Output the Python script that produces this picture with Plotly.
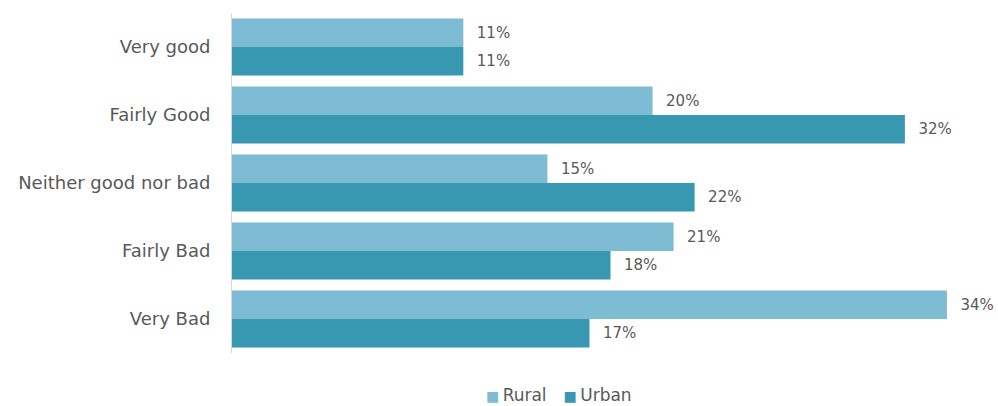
import plotly.graph_objects as go

categories = ["Very good", "Fairly Good", "Neither good nor bad", "Fairly Bad", "Very Bad"]
rural = [11, 20, 15, 21, 34]
urban = [11, 32, 22, 18, 17]

RURAL_COLOR = "#7dbcd2"
URBAN_COLOR = "#3898b2"
TEXT_COLOR = "#595959"
FONT = "DejaVu Sans"
PAD = "\u2002\u2009"  # gap between bar end and its value label

fig = go.Figure()
for name, vals, color in [("Rural", rural, RURAL_COLOR), ("Urban", urban, URBAN_COLOR)]:
    fig.add_trace(go.Bar(
        name=name,
        y=categories,
        x=vals,
        orientation="h",
        marker=dict(color=color, line=dict(width=0)),
        text=[f"{PAD}{v}%" for v in vals],
        textposition="outside",
        textfont=dict(family=FONT, size=15, color=TEXT_COLOR),
        cliponaxis=False,
        showlegend=False,
    ))

# compact legend line under the bars
legend_text = (
    f"<span style='color:{RURAL_COLOR};font-size:14px'>\u25a0</span>\u2009Rural\u2002\u2002"
    f"<span style='color:{URBAN_COLOR};font-size:14px'>\u25a0</span>\u2009Urban"
)
fig.add_annotation(
    text=legend_text,
    xref="paper", yref="paper",
    x=0.432, y=-0.124,
    xanchor="center", yanchor="middle",
    showarrow=False,
    font=dict(family=FONT, size=17, color=TEXT_COLOR),
)

fig.update_layout(
    width=998,
    height=406,
    margin=dict(l=232, r=9, t=13, b=53),
    paper_bgcolor="white",
    plot_bgcolor="white",
    barmode="group",
    bargap=0.16,
    bargroupgap=0,
    font=dict(family=FONT, color=TEXT_COLOR),
    xaxis=dict(
        range=[0, 36],
        showgrid=False,
        zeroline=False,
        showticklabels=False,
        showline=False,
        ticks="",
        fixedrange=True,
    ),
    yaxis=dict(
        categoryorder="array",
        categoryarray=categories,
        autorange="reversed",
        showgrid=False,
        showline=True,
        linecolor="#d9d9d9",
        linewidth=1,
        ticks="",
        ticklabelstandoff=17,
        tickfont=dict(family=FONT, size=18, color=TEXT_COLOR),
        automargin=False,
    ),
)

fig.write_html("out.html")
